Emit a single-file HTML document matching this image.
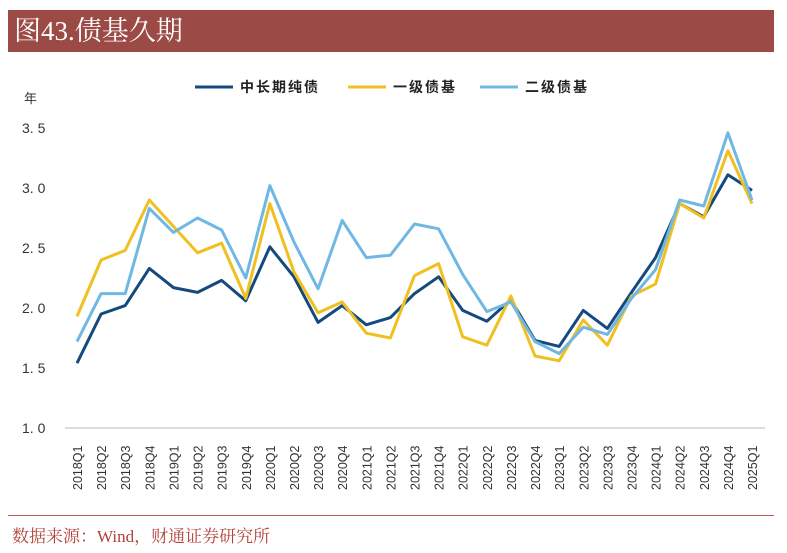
<!DOCTYPE html>
<html><head><meta charset="utf-8"><style>
body{margin:0;width:787px;height:553px;background:#fff;overflow:hidden;font-family:"Liberation Serif","Noto Serif CJK SC",serif}
#hdr{position:absolute;left:8px;top:10px;width:766px;height:42px;background:#9b4a45;color:#fff;font-size:27px;line-height:42px;padding-left:6px;box-sizing:border-box}
#src{position:absolute;left:12px;top:522px;color:#b4413a;font-size:17px}
#line{position:absolute;left:8px;top:515px;width:766px;height:1px;background:#c25a52}
</style></head><body>
<div id="hdr">图43.债基久期</div>
<svg id="c" width="787" height="553" style="position:absolute;left:0;top:0"></svg>
<div id="line"></div>
<div id="src">数据来源：Wind，财通证券研究所</div>
<script>
const categories=["2018Q1","2018Q2","2018Q3","2018Q4","2019Q1","2019Q2","2019Q3","2019Q4","2020Q1","2020Q2","2020Q3","2020Q4","2021Q1","2021Q2","2021Q3","2021Q4","2022Q1","2022Q2","2022Q3","2022Q4","2023Q1","2023Q2","2023Q3","2023Q4","2024Q1","2024Q2","2024Q3","2024Q4","2025Q1"];
const pureBond=[1.54,1.95,2.02,2.33,2.17,2.13,2.23,2.06,2.51,2.26,1.88,2.02,1.86,1.92,2.12,2.26,1.98,1.89,2.07,1.73,1.68,1.98,1.83,2.13,2.42,2.87,2.76,3.11,2.98];
const primaryBond=[1.93,2.40,2.48,2.90,2.68,2.46,2.54,2.08,2.87,2.30,1.96,2.05,1.79,1.75,2.27,2.37,1.76,1.69,2.10,1.60,1.56,1.90,1.69,2.10,2.20,2.87,2.75,3.31,2.87];
const secondaryBond=[1.72,2.12,2.12,2.83,2.63,2.75,2.65,2.25,3.02,2.55,2.16,2.73,2.42,2.44,2.70,2.66,2.28,1.97,2.05,1.72,1.62,1.84,1.78,2.08,2.32,2.90,2.85,3.46,2.90];
const yTicks=[1.0,1.5,2.0,2.5,3.0,3.5];
const seriesNames=["中长期纯债","一级债基","二级债基"];
const colors=["#154a7e","#f0c020","#70b8e4"];
const NS="http://www.w3.org/2000/svg",svg=document.getElementById('c');
const x=i=>77+i*(752-77)/(categories.length-1);
const y=v=>428-(v-1.0)*120;
function mk(t,a,txt){const e=document.createElementNS(NS,t);for(const k in a)e.setAttribute(k,a[k]);if(txt!=null)e.textContent=txt;svg.appendChild(e);return e;}
const sans='"Liberation Sans","Noto Sans CJK SC",sans-serif';
yTicks.forEach(v=>{const t=mk('text',{x:22,y:y(v)+5,'font-size':14,'font-family':sans,fill:'#333'},v.toFixed(1).split('').join(' ').replace(' . ','. '));
});
const u=mk('text',{x:24,y:103,'font-size':13,'font-family':sans,fill:'#333'},'年');

const ax=mk('line',{x1:65,x2:765,y1:428,y2:428,stroke:'#bbb','stroke-width':1});

categories.forEach((c,i)=>{const t=mk('text',{transform:`translate(${x(i)+5},${490}) rotate(-90)`,'font-size':12.5,'font-family':sans,fill:'#333'},c);
});
[pureBond,primaryBond,secondaryBond].forEach((s,k)=>{const p=mk('polyline',{points:s.map((v,i)=>x(i)+','+y(v)).join(' '),fill:'none',stroke:colors[k],'stroke-width':3,'stroke-linejoin':'round'});
});
const lx=[195,348,480];
seriesNames.forEach((n,k)=>{const l=mk('line',{x1:lx[k],x2:lx[k]+38,y1:87,y2:87,stroke:colors[k],'stroke-width':3});

const t=mk('text',{x:lx[k]+45,y:92,'font-size':14,'font-weight':'bold','font-family':sans,fill:'#222','letter-spacing':2},n);
});
</script>
</body></html>
